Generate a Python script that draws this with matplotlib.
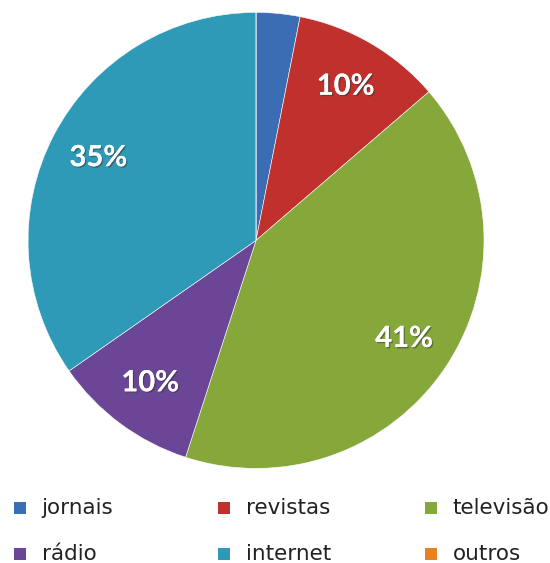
import matplotlib.pyplot as plt
import matplotlib.patheffects as pe
from matplotlib.patches import Rectangle

labels = ['jornais', 'revistas', 'televisão', 'rádio', 'internet', 'outros']
values = [3.1, 10.6, 41.3, 10.3, 34.7, 0]
pct_labels = ['', '10%', '41%', '10%', '35%', '']
colors = ['#3a6db4', '#c0302d', '#86a83a', '#6b4596', '#2f9ab8', '#e8821e']

fig = plt.figure(figsize=(5.5, 5.63), dpi=100)
ax = fig.add_axes([0.051, 0.168, 0.829, 0.81])

wedges, texts = ax.pie(values, colors=colors, startangle=90, counterclock=False,
                       labels=pct_labels, labeldistance=0.78,
                       wedgeprops=dict(edgecolor='white', linewidth=0.4))
for t in texts:
    t.set_color('white')
    t.set_fontsize(21)
    t.set_fontfamily('Lato')
    t.set_fontweight('bold')
    t.set_ha('center')
    t.set_va('center')
    t.set_path_effects([pe.withSimplePatchShadow(offset=(1, -1), shadow_rgbFace='#333333', alpha=0.5),
                        pe.Normal()])
ax.set_aspect('auto')
ax.set_xlim(-1, 1)
ax.set_ylim(-1, 1)

# legend: 3 columns x 2 rows
col_x = [0.026, 0.397, 0.773]
row_y = [0.098, 0.016]
for i, (name, c) in enumerate(zip(labels, colors)):
    r, k = divmod(i, 3)
    x, y = col_x[k], row_y[r]
    fig.patches.append(Rectangle((x, y - 0.0105), 0.021, 0.021, transform=fig.transFigure,
                                 facecolor=c, edgecolor='none'))
    fig.text(x + 0.05, y, name, fontsize=15.5, va='center', ha='left', color='#222222')

fig.savefig('out.png', dpi=100)
